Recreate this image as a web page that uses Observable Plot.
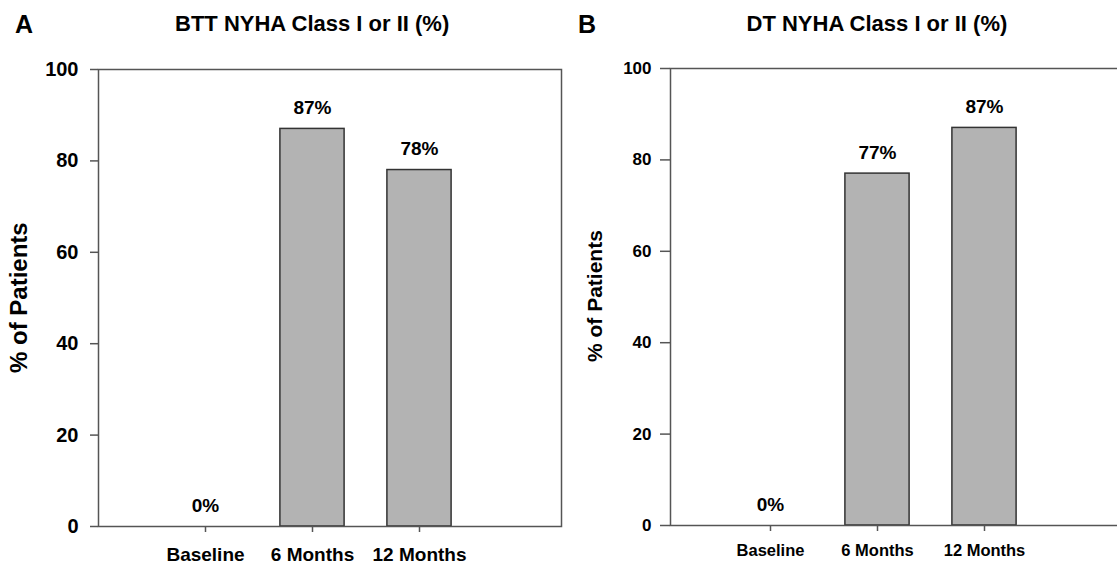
<!DOCTYPE html>
<html>
<head>
<meta charset="utf-8">
<script src="https://cdn.jsdelivr.net/npm/d3@7"></script>
<script src="https://cdn.jsdelivr.net/npm/@observablehq/plot@0.6"></script>
<style>
  html, body { margin: 0; padding: 0; background: #fff; overflow: hidden; }
  #wrap { position: relative; width: 1117px; height: 567px; overflow: hidden; font-family: "Liberation Sans", Arial, sans-serif; font-weight: bold; color: #000; }
  .abs { position: absolute; white-space: nowrap; line-height: 1; }
  .panel { position: absolute; top: 0; }
  .panel svg { max-width: none !important; display: block; }
  .ylab { position: absolute; transform-origin: 0 0; transform: rotate(-90deg); white-space: nowrap; line-height: 1; }
</style>
</head>
<body>
<div id="wrap">
  <div class="panel" id="panelA" style="left:0px; width:580px;"></div>
  <div class="panel" id="panelB" style="left:560px; width:600px;"></div>
  <div class="abs" style="left:15px; top:12px; font-size:25px;">A</div>
  <div class="abs" id="titleA" style="font-size:22px; top:13px;"></div>
  <div class="abs" style="left:578px; top:12px; font-size:25px;">B</div>
  <div class="abs" id="titleB" style="font-size:22px; top:13px;"></div>
  <div class="ylab" id="ylabA" style="font-size:24px;"></div>
  <div class="ylab" id="ylabB" style="font-size:21px;"></div>
</div>
<script>
// ---- data ----
const categories = ["Baseline", "6 Months", "12 Months"];
const bttValues = [0, 87, 78];
const dtValues = [0, 77, 87];
const yTicks = [0, 20, 40, 60, 80, 100];
const titleA = "BTT NYHA Class I or II (%)";
const titleB = "DT NYHA Class I or II (%)";
const yLabel = "% of Patients";

const font = '"Liberation Sans", Arial, sans-serif';

function panel(values, o) {
  const data = categories.map((c, i) => ({cat: c, pos: i + 1, value: values[i]}));
  return Plot.plot({
    width: o.width,
    height: 567,
    marginLeft: o.marginLeft,
    marginRight: o.marginRight,
    marginTop: o.marginTop,
    marginBottom: o.marginBottom,
    x: {type: "linear", domain: o.xDomain, axis: null},
    y: {domain: [0, 100], axis: null},
    style: {fontFamily: font, fontWeight: "bold", color: "#000", background: "transparent", overflow: "visible", maxWidth: "none"},
    marks: [
      Plot.rectY(data.filter(d => d.value > 0), {
        x1: d => d.pos - 0.3, x2: d => d.pos + 0.3, y1: 0, y2: "value",
        fill: "#b3b3b3", stroke: "#333", strokeWidth: 1.5
      }),
      Plot.frame({stroke: "#555", strokeWidth: 1.5}),
      Plot.axisY({ticks: yTicks, label: null, tickSize: o.yTickSize, tickPadding: o.yTickPadding, fontSize: o.yFont, stroke: "#555", strokeWidth: 1.5, fill: "#000", tickFormat: d => String(d)}),
      Plot.axisX({ticks: [1, 2, 3], label: null, tickFormat: d => categories[d - 1], tickSize: 6, tickPadding: o.xTickPadding, fontSize: o.xFont, stroke: "#555", strokeWidth: 1.5, fill: "#000"}),
      Plot.text(data, {x: "pos", y: "value", text: d => d.value + "%", dy: -21, fontSize: o.valFont, fontWeight: "bold", fill: "#000"})
    ]
  });
}

const A = panel(bttValues, {
  width: 580, marginLeft: 98, marginRight: 19, marginTop: 69, marginBottom: 41,
  xDomain: [0, 463 / 107], yTickSize: 8, yTickPadding: 12, yFont: 20,
  xTickPadding: 15, xFont: 19, valFont: 19
});
const B = panel(dtValues, {
  width: 600, marginLeft: 110, marginRight: 30, marginTop: 68, marginBottom: 42,
  xDomain: [1 - 100 / 107, 1 - 100 / 107 + 460 / 107], yTickSize: 10, yTickPadding: 9, yFont: 17,
  xTickPadding: 13, xFont: 16.5, valFont: 19
});
document.getElementById("panelA").appendChild(A);
document.getElementById("panelB").appendChild(B);

// titles centered over the middle category
const tA = document.getElementById("titleA");
tA.textContent = titleA;
tA.style.left = (312 - tA.offsetWidth / 2) + "px";
const tB = document.getElementById("titleB");
tB.textContent = titleB;
tB.style.left = (877 - tB.offsetWidth / 2) + "px";

// rotated y labels
function placeY(el, cx, cy) {
  el.textContent = yLabel;
  const w = el.offsetWidth, h = el.offsetHeight;
  el.style.left = (cx - h / 2) + "px";
  el.style.top = (cy + w / 2) + "px";
}
placeY(document.getElementById("ylabA"), 19, 297);
placeY(document.getElementById("ylabB"), 594, 296);
</script>
</body>
</html>
